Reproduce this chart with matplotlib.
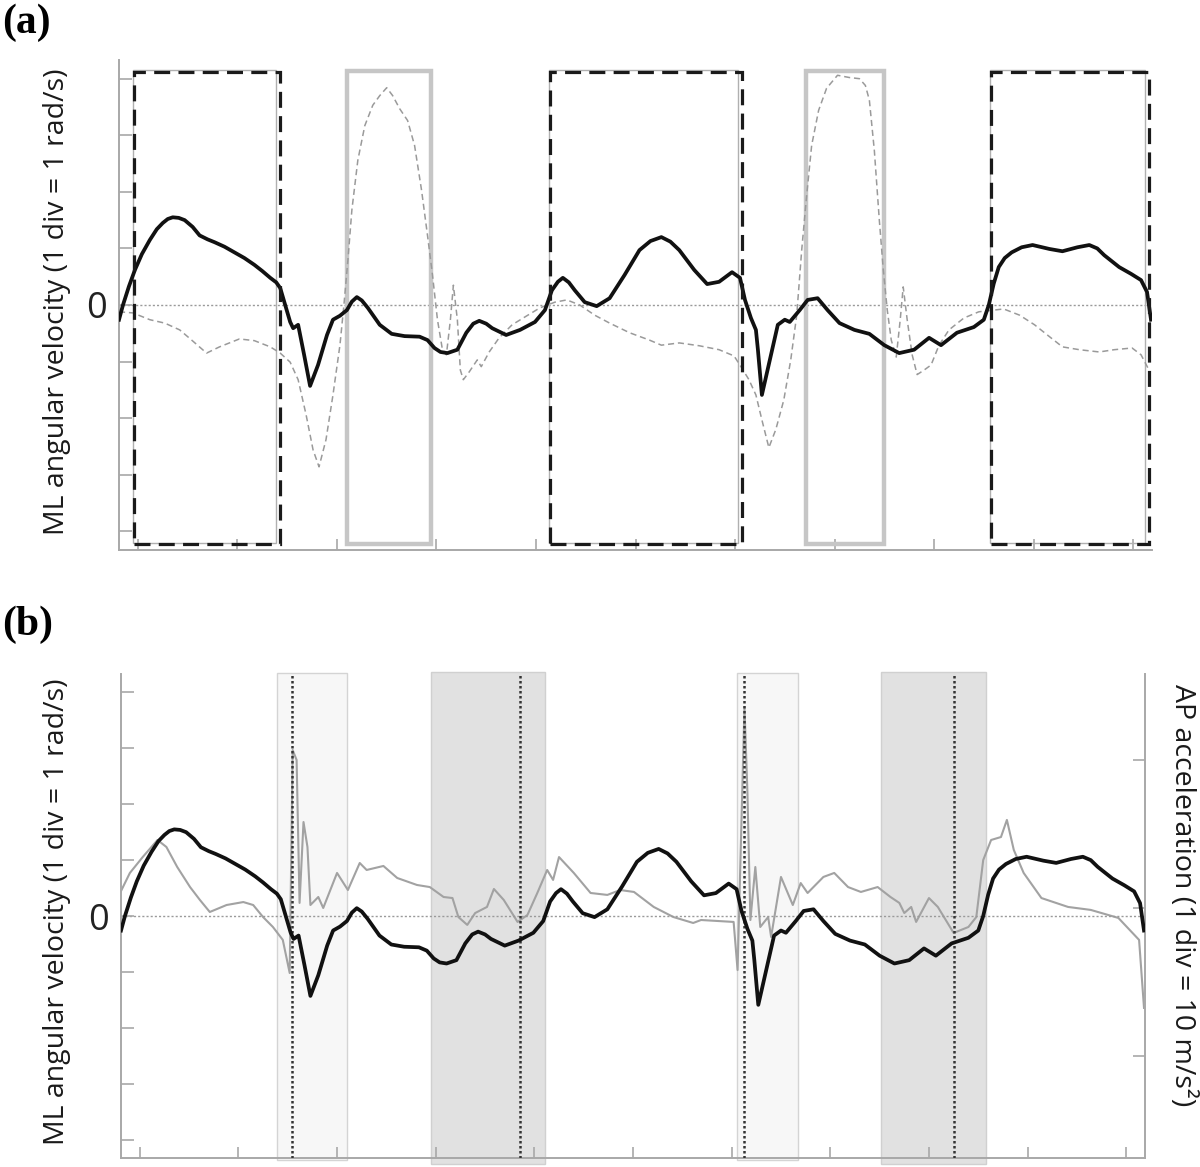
import matplotlib
matplotlib.use('Agg')
import matplotlib.pyplot as plt
from matplotlib.patches import Rectangle

# ---------------- data (x in tick divisions, y in divisions / m/s^2) ----------------
# ML angular velocity (black, thick) - same trace in (a) and (b)
ml_t = [-0.19, -0.15, -0.09, -0.03, 0.04, 0.12, 0.19, 0.25, 0.30, 0.35, 0.41, 0.47, 0.55, 0.62,
        0.70, 0.77, 0.87, 0.97, 1.07, 1.17, 1.25, 1.33, 1.39, 1.43,
        1.48, 1.53, 1.56, 1.61, 1.67, 1.73, 1.81, 1.90, 1.96, 2.03, 2.10, 2.15, 2.20, 2.25, 2.31,
        2.37, 2.43, 2.55, 2.68, 2.83, 2.91, 2.98, 3.04, 3.11, 3.21, 3.30, 3.37, 3.43, 3.50,
        3.56, 3.70, 3.84, 3.99, 4.09, 4.16, 4.22, 4.27, 4.33, 4.39, 4.49, 4.61, 4.74,
        4.89, 5.04, 5.15, 5.26, 5.35, 5.44, 5.59, 5.72, 5.84, 5.97, 6.05, 6.10, 6.16,
        6.21, 6.23, 6.27, 6.35, 6.43, 6.50, 6.55, 6.65, 6.73, 6.83, 6.93, 7.05, 7.20,
        7.35, 7.50, 7.65, 7.80, 7.95, 8.07, 8.23, 8.40, 8.50, 8.55, 8.60, 8.65, 8.71,
        8.78, 8.88, 8.99, 9.16, 9.29, 9.44, 9.56, 9.64, 9.71, 9.86, 9.98, 10.08, 10.14,
        10.18]
ml_v = [-0.26, 0.00, 0.33, 0.62, 0.90, 1.15, 1.34, 1.45, 1.52, 1.55, 1.54, 1.50, 1.38, 1.23,
        1.16, 1.11, 1.03, 0.93, 0.83, 0.71, 0.60, 0.48, 0.40, 0.30,
        0.00, -0.30, -0.41, -0.35, -0.88, -1.43, -1.06, -0.53, -0.26, -0.19, -0.09, 0.06,
        0.14, 0.08, -0.05, -0.20, -0.35, -0.51, -0.55, -0.56, -0.62, -0.76, -0.83, -0.85,
        -0.79, -0.49, -0.33, -0.28, -0.33, -0.41, -0.53, -0.44, -0.30, -0.09, 0.26,
        0.41, 0.48, 0.40, 0.26, 0.05, -0.02, 0.12, 0.53, 0.97, 1.13, 1.20, 1.12, 0.97,
        0.62, 0.37, 0.41, 0.58, 0.48, 0.09, -0.23, -0.44, -0.79, -1.59, -0.97, -0.35,
        -0.26, -0.30, -0.09, 0.09, 0.12, -0.09, -0.32, -0.44, -0.51, -0.71, -0.85,
        -0.79, -0.58, -0.71, -0.49, -0.39, -0.26, 0.00, 0.38, 0.67, 0.83, 0.93, 1.02,
        1.06, 0.99, 0.95, 1.02, 1.06, 1.00, 0.88, 0.67, 0.55, 0.44, 0.23, -0.26]

# second ML angular velocity trace (grey dashed) in (a)
ml2_t = [-0.19, -0.05, 0.12, 0.27, 0.42, 0.54, 0.69, 0.82, 1.02, 1.17, 1.33, 1.43, 1.53,
         1.61, 1.69, 1.76, 1.82, 1.89, 1.96, 2.03, 2.07, 2.11, 2.15, 2.21, 2.28, 2.36,
         2.43, 2.50, 2.56, 2.63, 2.71, 2.78, 2.85, 2.91, 2.96, 3.01, 3.06, 3.10, 3.14,
         3.17, 3.21, 3.24, 3.27, 3.33, 3.41, 3.45, 3.53, 3.63, 3.76, 3.89, 4.04, 4.19,
         4.31, 4.44, 4.59, 4.74, 4.94, 5.14, 5.26, 5.44, 5.64, 5.84, 5.99, 6.06, 6.14,
         6.21, 6.27, 6.34, 6.41, 6.49, 6.56, 6.62, 6.67, 6.72, 6.77, 6.84, 6.92, 7.03,
         7.15, 7.25, 7.31, 7.35, 7.40, 7.45, 7.49, 7.53, 7.57, 7.62, 7.66, 7.69, 7.73,
         7.78, 7.83, 7.90, 7.97, 8.05, 8.15, 8.30, 8.45, 8.60, 8.70, 8.86, 9.01, 9.16,
         9.29, 9.46, 9.66, 9.81, 9.99, 10.08, 10.16]
ml2_v = [-0.12, -0.14, -0.26, -0.32, -0.44, -0.62, -0.85, -0.74, -0.60, -0.63, -0.74,
         -0.85, -1.01, -1.32, -1.94, -2.56, -2.86, -2.38, -1.59, -0.71, 0.00, 0.79, 1.68,
         2.56, 3.17, 3.53, 3.70, 3.84, 3.70, 3.47, 3.26, 2.82, 2.03, 1.23, 0.53, -0.26,
         -0.79, -0.88, -0.26, 0.35, -0.26, -1.15, -1.32, -1.18, -0.97, -1.09, -0.83,
         -0.58, -0.35, -0.21, -0.05, 0.05, 0.09, 0.00, -0.18, -0.32, -0.49, -0.62, -0.71,
         -0.67, -0.72, -0.79, -0.90, -1.09, -1.32, -1.59, -2.03, -2.52, -2.20, -1.68,
         -0.97, -0.18, 0.97, 1.94, 2.82, 3.44, 3.83, 4.06, 4.02, 4.00, 3.88, 3.62, 2.73,
         1.50, 0.62, -0.09, -0.62, -0.92, -0.26, 0.32, -0.26, -0.88, -1.23, -1.15, -1.06,
         -0.71, -0.44, -0.23, -0.12, -0.09, -0.07, -0.18, -0.35, -0.56, -0.74, -0.79,
         -0.83, -0.79, -0.76, -0.88, -1.15]

# AP acceleration (grey solid, right axis, m/s^2) in (b)
ap_t = [-0.19, -0.10, 0.03, 0.18, 0.27, 0.38, 0.51, 0.61, 0.71, 0.88, 1.05, 1.15, 1.25,
        1.35, 1.45, 1.52, 1.55, 1.59, 1.62, 1.66, 1.70, 1.73, 1.81, 1.86, 2.00, 2.11,
        2.23, 2.30, 2.47, 2.61, 2.81, 2.94, 3.08, 3.17, 3.23, 3.32, 3.40, 3.52, 3.59,
        3.69, 3.83, 3.93, 4.03, 4.13, 4.19, 4.25, 4.40, 4.57, 4.74, 4.87, 5.01, 5.21,
        5.41, 5.61, 5.69, 6.02, 6.06, 6.13, 6.16, 6.19, 6.24, 6.29, 6.37, 6.40, 6.50,
        6.62, 6.70, 6.77, 6.93, 7.04, 7.18, 7.31, 7.48, 7.61, 7.70, 7.75, 7.82, 7.87,
        8.00, 8.09, 8.25, 8.40, 8.48, 8.55, 8.63, 8.73, 8.79, 8.86, 8.96, 9.14, 9.41,
        9.64, 9.92, 10.13, 10.18]
ap_v = [1.14, 2.36, 3.43, 4.58, 4.11, 2.76, 1.41, 0.54, -0.27, 0.20, 0.40, 0.20, -0.61,
        -1.28, -2.15, -4.38, 10.64, 9.97, 0.34, 5.79, 4.11, 0.20, 0.74, 0.00, 2.36, 1.21,
        3.03, 2.56, 2.83, 2.02, 1.55, 1.41, 0.74, 0.67, -0.61, -1.14, -0.34, 0.07, 1.28,
        0.54, -0.94, -0.47, 1.01, 2.56, 1.89, 3.43, 2.36, 1.01, 0.88, 1.21, 1.08, 0.07,
        -0.61, -1.01, -0.81, -0.94, -4.18, 13.54, 7.74, -0.81, 2.76, -1.28, -0.61, -1.95,
        2.09, 0.20, 1.68, 1.01, 2.09, 2.36, 1.41, 1.08, 1.41, 0.74, 0.34, -0.34, 0.07,
        -0.94, 0.67, 0.07, -1.68, -1.28, -0.61, 3.23, 4.58, 4.78, 5.93, 3.91, 2.36, 0.67,
        0.07, -0.13, -0.67, -2.15, -6.73]

# phase boxes / spans (x intervals)
dashed_boxes = [(-0.04, 1.43), (4.14, 6.07), (8.57, 10.16)]
grey_boxes = [(2.10, 2.95), (6.71, 7.50)]
light_spans = [(1.39, 2.10), (6.05, 6.67)]
dark_spans = [(2.95, 4.11), (7.51, 8.58)]
event_lines = [1.54, 3.85, 6.13, 8.25]

y_ticks = [-4, -3, -2, -1, 0, 1, 2, 3, 4]
y_ticklabels = ['', '', '', '', '0', '', '', '', '']
x_ticks = list(range(0, 11))
ap_ticks = [-10, 0, 10]

ylabel = 'ML angular velocity (1 div = 1 rad/s)'
ylabel_r = 'AP acceleration (1 div = 10 m/s\u00b2)'

# ---------------- style ----------------
SP = '#a8a8a8'
FONT = ['Open Sans', 'DejaVu Sans']
W, H = 1200, 1167
fig = plt.figure(figsize=(12, 11.67), dpi=100)


def style_axis(ax):
    for s in ['top', 'right']:
        ax.spines[s].set_visible(False)
    for s in ['left', 'bottom']:
        ax.spines[s].set_color(SP)
        ax.spines[s].set_linewidth(1.4)
    ax.set_xlim(-0.19, 10.19)
    ax.set_ylim(-4.33, 4.33)
    ax.set_yticks(y_ticks)
    ax.set_yticklabels(y_ticklabels, fontsize=26, family=FONT, color='#222222')
    ax.set_xticks(x_ticks)
    ax.set_xticklabels([''] * len(x_ticks))
    ax.tick_params(axis='y', direction='in', length=9, width=1.2, color=SP, pad=9)
    ax.tick_params(axis='x', direction='in', length=8, width=1.2, color=SP)
    ax.axhline(0, color='#9a9a9a', lw=1.0, ls=(0, (1.5, 1.5)), zorder=1)


# ---------------- panel (a) ----------------
axA = fig.add_axes([119 / W, 1 - 550 / H, 1033 / W, 490 / H])
style_axis(axA)
for (x0, x1) in dashed_boxes:
    axA.add_patch(Rectangle((x0 - 0.01, -4.20), x1 - x0 - 0.03, 8.36, fill=False,
                            ec='#b0b0b0', lw=1.0, zorder=2))
    axA.add_patch(Rectangle((x0, -4.22), x1 - x0, 8.33, fill=False, ec='#1a1a1a',
                            lw=2.3, ls=(0, (5, 2.6)), zorder=5))
for (x0, x1) in grey_boxes:
    axA.add_patch(Rectangle((x0, -4.23), x1 - x0, 8.37, fill=False, ec='#c6c6c6',
                            lw=3.2, zorder=2))
axA.plot(ml2_t, ml2_v, color='#9a9a9a', lw=1.1, ls=(0, (4, 2.5)), zorder=3)
axA.plot(ml_t, ml_v, color='#111111', lw=2.7, solid_joinstyle='round', zorder=4)

# ---------------- panel (b) ----------------
axB = fig.add_axes([121 / W, 1 - 1158 / H, 1024 / W, 484 / H])
axR = axB.twinx()
axB.set_zorder(2)
axR.set_zorder(1)
axB.patch.set_visible(False)
style_axis(axB)
for s in ['top', 'left', 'bottom']:
    axR.spines[s].set_visible(False)
axR.spines['right'].set_color(SP)
axR.spines['right'].set_linewidth(1.4)
axR.set_ylim(-16.84, 15.76)
axR.set_yticks(ap_ticks)
axR.set_yticklabels([''] * len(ap_ticks))
axR.tick_params(axis='y', direction='in', length=9, width=1.2, color=SP)

for (x0, x1) in light_spans:
    p = axR.axvspan(x0, x1, ymin=-0.005, ymax=1.003, facecolor='#f7f7f7',
                    edgecolor='#d4d4d4', lw=1.0, zorder=0)
    p.set_clip_on(False)
for (x0, x1) in dark_spans:
    p = axR.axvspan(x0, x1, ymin=-0.012, ymax=1.004, facecolor='#e1e1e1',
                    edgecolor='#d0d0d0', lw=1.0, zorder=0)
    p.set_clip_on(False)
axR.plot(ap_t, ap_v, color='#a2a2a2', lw=1.5, zorder=2)

for t in event_lines:
    axB.axvline(t, color='#333333', lw=1.8, ls=(0, (1, 1)), zorder=3)
axB.plot(ml_t, ml_v, color='#111111', lw=2.7, solid_joinstyle='round', zorder=4)

# ---------------- text ----------------
LBL = 20.5
fig.text(57 / W, 1 - 302 / H, ylabel, rotation=90, ha='center', va='center',
         fontsize=LBL, family=FONT, color='#1a1a1a')
fig.text(57 / W, 1 - 912 / H, ylabel, rotation=90, ha='center', va='center',
         fontsize=LBL, family=FONT, color='#1a1a1a')
fig.text(1182 / W, 1 - 895 / H, ylabel_r, rotation=270, ha='center', va='center',
         fontsize=LBL, family=FONT, color='#1a1a1a')
fig.text(2 / W, 1 - 4 / H, '(a)', ha='left', va='top', fontsize=30,
         family=['Liberation Serif', 'DejaVu Serif'], fontweight='bold')
fig.text(2 / W, 1 - 606 / H, '(b)', ha='left', va='top', fontsize=30,
         family=['Liberation Serif', 'DejaVu Serif'], fontweight='bold')

fig.savefig('out.png', dpi=100)
